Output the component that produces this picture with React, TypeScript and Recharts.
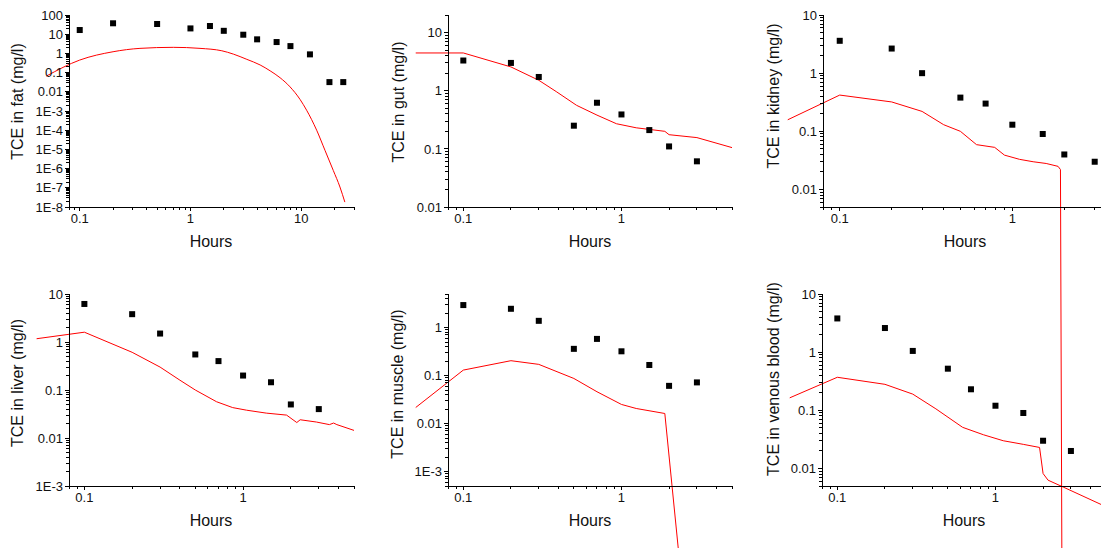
import React from "react";
import { ComposedChart, Line, Scatter, XAxis, YAxis } from "recharts";

const FONT = '"Liberation Sans", Arial, Helvetica, sans-serif';

// measured concentrations (black squares)
const obsHours = [0.1, 0.2, 0.3, 0.5, 0.7, 1, 1.5, 2, 3];
const fatObsHours = [0.1, 0.2, 0.5, 1, 1.5, 2, 3, 4, 6, 8, 12, 18, 24];
const fatObs = [16.5, 37, 34, 20, 26.7, 15, 9.4, 5.4, 3.9, 2.4, 0.89, 0.032, 0.032];
const gutObs = [3.3, 3.0, 1.72, 0.25, 0.62, 0.39, 0.21, 0.11, 0.061];
const kidneyObs = [3.6, 2.65, 1.0, 0.38, 0.3, 0.13, 0.09, 0.04, 0.03];
const liverObs = [6.2, 3.8, 1.5, 0.55, 0.4, 0.2, 0.145, 0.05, 0.04];
const muscleObs = [2.94, 2.46, 1.38, 0.36, 0.58, 0.32, 0.166, 0.061, 0.072];
const venousObs = [3.8, 2.6, 1.05, 0.52, 0.23, 0.12, 0.09, 0.03, 0.02];

// model predictions (red line)
const fatModelHours = [0.05, 0.1, 0.2, 0.35, 0.7, 1.22, 1.92, 2.44, 3.23, 4.26, 5.24, 6.45, 7.94, 9.77, 11.2, 13.8, 16.4, 19.5, 22.4, 24.8];
const fatModel = [0.066, 0.45, 1.22, 1.83, 2.07, 1.83, 1.37, 0.92, 0.49, 0.25, 0.124, 0.054, 0.018, 0.004, 0.0011, 1e-4, 9e-6, 8e-7, 1.1e-7, 1.8e-8];
const gutModelHours = [0.05, 0.1, 0.2, 0.3, 0.39, 0.52, 0.7, 0.93, 1.24, 1.88, 2.0, 3.0, 5.0];
const gutModel = [4.45, 4.45, 2.56, 1.51, 0.95, 0.56, 0.38, 0.27, 0.23, 0.2, 0.175, 0.156, 0.105];
const kidneyModelHours = [0.05, 0.1, 0.2, 0.3, 0.4, 0.5, 0.62, 0.79, 0.9, 1.1, 1.32, 1.57, 1.84, 1.9, 1.945];
const kidneyModel = [0.158, 0.42, 0.32, 0.22, 0.13, 0.1, 0.059, 0.053, 0.039, 0.033, 0.03, 0.028, 0.025, 0.022, 1e-10];
const liverModelHours = [0.05, 0.1, 0.2, 0.3, 0.4, 0.5, 0.68, 0.86, 1.05, 1.4, 1.88, 2.18, 2.29, 2.9, 3.5, 3.72, 3.9, 5.0];
const liverModel = [1.17, 1.6, 0.61, 0.3, 0.16, 0.1, 0.057, 0.043, 0.038, 0.033, 0.03, 0.021, 0.024, 0.0215, 0.019, 0.0205, 0.019, 0.0144];
const muscleModelHours = [0.05, 0.1, 0.2, 0.3, 0.5, 0.7, 1.0, 1.24, 1.88, 2.52];
const muscleModel = [0.0216, 0.13, 0.204, 0.171, 0.087, 0.046, 0.025, 0.0206, 0.0162, 1e-6];
const venousModelHours = [0.05, 0.1, 0.2, 0.3, 0.42, 0.62, 0.84, 1.12, 1.5, 1.9, 2.0, 2.15, 2.68, 5.0];
const venousModel = [0.164, 0.37, 0.28, 0.19, 0.106, 0.051, 0.038, 0.03, 0.026, 0.023, 0.0082, 0.0063, 0.0048, 0.0022];

// tick labels
const hourTicks = [0.1, 1];
const hourLabels = ["0.1", "1"];
const fatHourTicks = [0.1, 1, 10];
const fatHourLabels = ["0.1", "1", "10"];
const fatTicks = [1e-8, 1e-7, 1e-6, 1e-5, 1e-4, 1e-3, 0.01, 0.1, 1, 10, 100];
const fatLabels = ["1E-8", "1E-7", "1E-6", "1E-5", "1E-4", "1E-3", "0.01", "0.1", "1", "10", "100"];
const decadeTicks = [0.01, 0.1, 1, 10];
const decadeLabels = ["0.01", "0.1", "1", "10"];
const liverTicks = [1e-3, 0.01, 0.1, 1, 10];
const liverLabels = ["1E-3", "0.01", "0.1", "1", "10"];
const muscleTicks = [1e-3, 0.01, 0.1, 1];
const muscleLabels = ["1E-3", "0.01", "0.1", "1"];

type PanelDef = {
  title: string;
  left: number;
  top: number;
  right: number;
  bottom: number;
  xDomain: [number, number];
  yDomain: [number, number];
  xMajor: number[];
  xLabels: string[];
  yMajor: number[];
  yLabels: string[];
  obsHours: number[];
  obs: number[];
  modelHours: number[];
  model: number[];
  curve: "linear" | "monotone";
  titleGap: number;
  titleDy: number;
};

const panels: PanelDef[] = [
  { title: "TCE in fat (mg/l)", left: 69, top: 15, right: 354, bottom: 207, xDomain: [0.08, 30], yDomain: [1e-8, 100], xMajor: fatHourTicks, xLabels: fatHourLabels, yMajor: fatTicks, yLabels: fatLabels, obsHours: fatObsHours, obs: fatObs, modelHours: fatModelHours, model: fatModel, curve: "monotone", titleGap: 52, titleDy: -9.5 },
  { title: "TCE in gut (mg/l)", left: 448, top: 15, right: 732, bottom: 207, xDomain: [0.08, 5], yDomain: [0.01, 20], xMajor: hourTicks, xLabels: hourLabels, yMajor: decadeTicks, yLabels: decadeLabels, obsHours, obs: gutObs, modelHours: gutModelHours, model: gutModel, curve: "linear", titleGap: 50, titleDy: -9 },
  { title: "TCE in kidney (mg/l)", left: 823, top: 15, right: 1133, bottom: 207, xDomain: [0.08, 5], yDomain: [0.005, 10], xMajor: hourTicks, xLabels: hourLabels, yMajor: decadeTicks, yLabels: decadeLabels, obsHours, obs: kidneyObs, modelHours: kidneyModelHours, model: kidneyModel, curve: "linear", titleGap: 50, titleDy: -15 },
  { title: "TCE in liver (mg/l)", left: 69, top: 294, right: 354, bottom: 486, xDomain: [0.08, 5], yDomain: [1e-3, 10], xMajor: hourTicks, xLabels: hourLabels, yMajor: liverTicks, yLabels: liverLabels, obsHours, obs: liverObs, modelHours: liverModelHours, model: liverModel, curve: "linear", titleGap: 52, titleDy: -7 },
  { title: "TCE in muscle (mg/l)", left: 448, top: 294, right: 732, bottom: 486, xDomain: [0.08, 5], yDomain: [5e-4, 5], xMajor: hourTicks, xLabels: hourLabels, yMajor: muscleTicks, yLabels: muscleLabels, obsHours, obs: muscleObs, modelHours: muscleModelHours, model: muscleModel, curve: "linear", titleGap: 51, titleDy: -6 },
  { title: "TCE in venous blood (mg/l)", left: 822, top: 294, right: 1106, bottom: 486, xDomain: [0.08, 5], yDomain: [0.005, 10], xMajor: hourTicks, xLabels: hourLabels, yMajor: decadeTicks, yLabels: decadeLabels, obsHours, obs: venousObs, modelHours: venousModelHours, model: venousModel, curve: "linear", titleGap: 49, titleDy: -11 },
];

// log ticks 1..9 per decade inside the domain
function logTicks([lo, hi]: [number, number]) {
  const out: number[] = [];
  for (let e = Math.floor(Math.log10(lo)); e <= Math.ceil(Math.log10(hi)); e++) {
    for (let m = 1; m < 10; m++) {
      const v = m * Math.pow(10, e);
      if (v >= lo * 0.9999 && v <= hi * 1.0001) out.push(v);
    }
  }
  return out;
}

const majorIndex = (majors: number[], v: number) =>
  majors.findIndex((m) => Math.abs(Math.log10(m) - Math.log10(v)) < 1e-6);

const Square = (props: any) => (
  <rect x={props.cx - 3} y={props.cy - 3} width={6} height={6} fill="#000" />
);

const YW = 60;
const TOP = 10;
const RIGHT = 10;
const XH = 50;

function Panel({ p }: { p: PanelDef }) {
  const plotW = p.right - p.left;
  const plotH = p.bottom - p.top;
  const width = YW + plotW + RIGHT;
  const height = TOP + plotH + XH;
  const obsData = p.obsHours.map((t, i) => ({ t, v: p.obs[i] }));
  const modelData = p.modelHours.map((t, i) => ({ t, v: p.model[i] }));

  const xTick = (props: any) => {
    const { x, y, payload } = props;
    const i = majorIndex(p.xMajor, payload.value);
    return (
      <g>
        <line x1={x} x2={x} y1={y} y2={y + (i >= 0 ? 4 : 3)} stroke="#000" shapeRendering="crispEdges" />
        {i >= 0 && (
          <text x={x} y={y + 16} textAnchor="middle" fontSize={13} fontFamily={FONT} fill="#111">
            {p.xLabels[i]}
          </text>
        )}
      </g>
    );
  };

  const yTick = (props: any) => {
    const { x, y, payload } = props;
    const i = majorIndex(p.yMajor, payload.value);
    return (
      <g>
        <line x1={x} x2={x - (i >= 0 ? 4 : 3)} y1={y} y2={y} stroke="#000" shapeRendering="crispEdges" />
        {i >= 0 && (
          <text x={x - 6} y={y} dy="0.36em" textAnchor="end" fontSize={13} fontFamily={FONT} fill="#111">
            {p.yLabels[i]}
          </text>
        )}
      </g>
    );
  };

  const xTitle = () => (
    <text x={YW + 142} y={TOP + plotH + 39.5} textAnchor="middle" fontSize={16} fontFamily={FONT} fill="#111">
      Hours
    </text>
  );

  const cx = YW - p.titleGap;
  const cy = TOP + plotH / 2 + p.titleDy;
  const yTitle = () => (
    <text x={cx} y={cy} dy="0.35em" transform={`rotate(-90, ${cx}, ${cy})`} textAnchor="middle" fontSize={16} fontFamily={FONT} fill="#111">
      {p.title}
    </text>
  );

  return (
    <div style={{ position: "absolute", left: p.left - YW, top: p.top - TOP, width, height }}>
      <ComposedChart width={width} height={height} margin={{ top: TOP, right: RIGHT, bottom: 0, left: 0 }}>
        <XAxis
          dataKey="t"
          type="number"
          scale="log"
          domain={p.xDomain}
          allowDataOverflow
          ticks={logTicks(p.xDomain)}
          interval={0}
          tickSize={0}
          tickMargin={0}
          tickLine={false}
          tick={xTick}
          axisLine={{ stroke: "#000", shapeRendering: "crispEdges" }}
          height={XH}
          label={{ value: "Hours", content: xTitle }}
        />
        <YAxis
          dataKey="v"
          type="number"
          scale="log"
          domain={p.yDomain}
          allowDataOverflow
          ticks={logTicks(p.yDomain)}
          interval={0}
          tickSize={0}
          tickMargin={0}
          tickLine={false}
          tick={yTick}
          axisLine={{ stroke: "#000", shapeRendering: "crispEdges" }}
          width={YW}
          label={{ value: p.title, content: yTitle }}
        />
        <Line
          data={modelData}
          dataKey="v"
          type={p.curve}
          stroke="#ff0000"
          strokeWidth={1}
          dot={false}
          activeDot={false}
          isAnimationActive={false}
        />
        <Scatter data={obsData} dataKey="v" fill="#000" shape={Square} isAnimationActive={false} />
      </ComposedChart>
    </div>
  );
}

export default function App() {
  return (
    <div
      style={{
        position: "absolute",
        left: 0,
        top: 0,
        width: 1101,
        height: 548,
        overflow: "hidden",
        background: "#fff",
        fontFamily: FONT,
      }}
    >
      <style>{`.recharts-surface{overflow:visible !important}.recharts-wrapper [clip-path]{clip-path:none !important}`}</style>
      {panels.map((p) => (
        <Panel key={p.title} p={p} />
      ))}
    </div>
  );
}
